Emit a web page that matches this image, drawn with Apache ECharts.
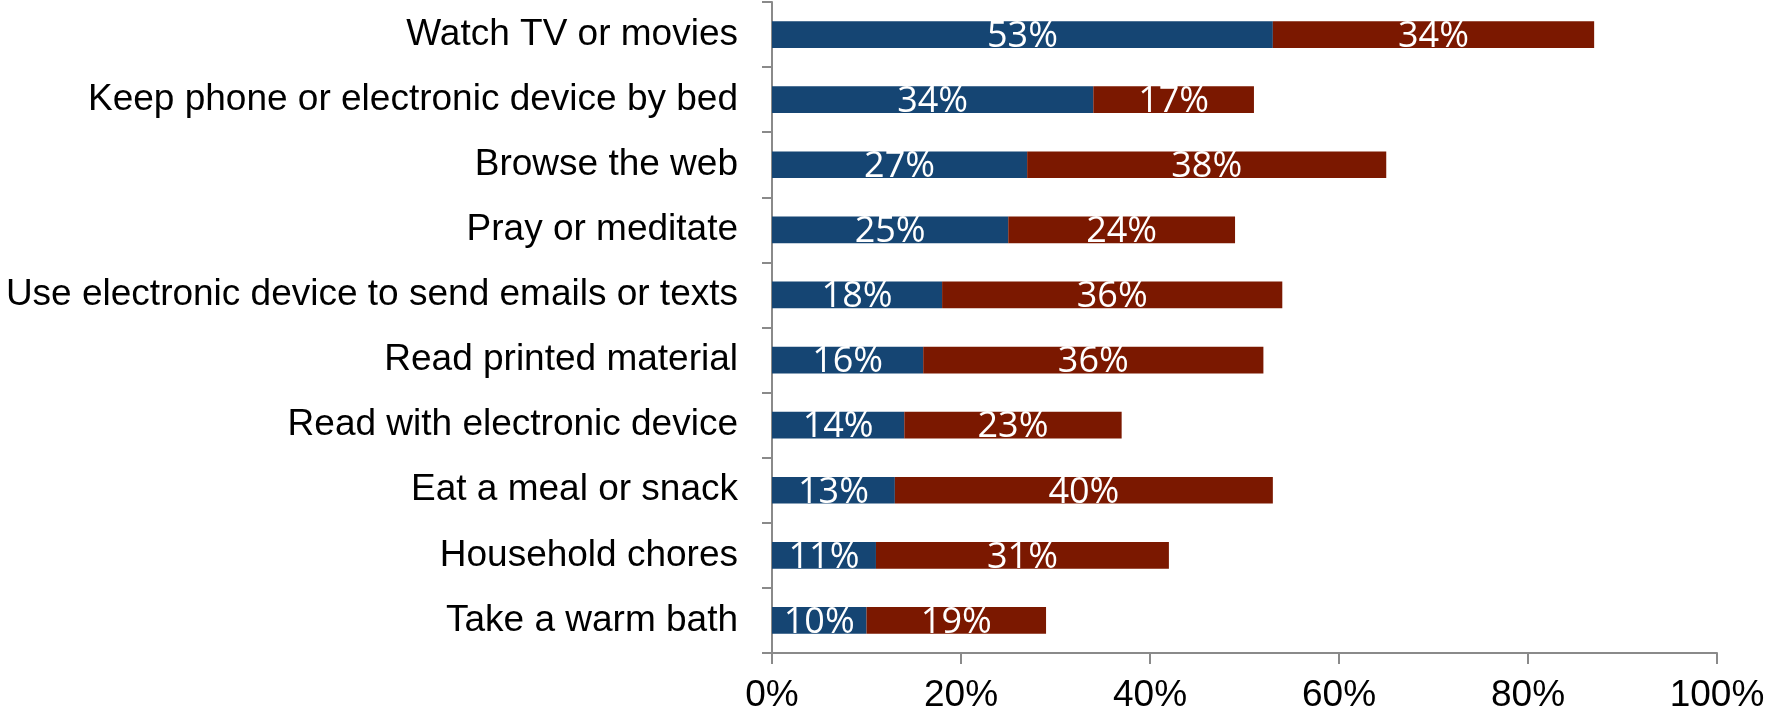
<!DOCTYPE html>
<html>
<head>
<meta charset="utf-8">
<script src="https://cdn.jsdelivr.net/npm/echarts@6/dist/echarts.min.js"></script>
<style>
  html, body { margin: 0; padding: 0; background: #ffffff; }
  #chart { width: 1768px; height: 715px; }
</style>
</head>
<body>
<div id="chart"></div>
<script>
// Bedtime activities, top to bottom
const categories = [
  'Watch TV or movies',
  'Keep phone or electronic device by bed',
  'Browse the web',
  'Pray or meditate',
  'Use electronic device to send emails or texts',
  'Read printed material',
  'Read with electronic device',
  'Eat a meal or snack',
  'Household chores',
  'Take a warm bath'
];
// First (blue) segment, percent
const blueValues = [53, 34, 27, 25, 18, 16, 14, 13, 11, 10];
// Second (red) segment, percent
const redValues = [34, 17, 38, 24, 36, 36, 23, 40, 31, 19];
// Value axis
const axisMin = 0;
const axisMax = 100;
const axisStep = 20;

const axisGray = '#8a8a8a';
const catFont = '"Liberation Sans", Arial, sans-serif';
const barFont = '"Open Sans", sans-serif';

const chart = echarts.init(document.getElementById('chart'), null, { renderer: 'canvas' });

const barLabel = {
  show: true,
  position: 'inside',
  offset: [0, 2],
  formatter: '{c}%',
  color: '#ffffff',
  fontFamily: barFont,
  fontSize: 36,
  lineHeight: 36
};

chart.setOption({
  animation: false,
  backgroundColor: '#ffffff',
  grid: { left: 772, right: 51, top: 2, bottom: 62, containLabel: false },
  xAxis: {
    type: 'value',
    min: axisMin,
    max: axisMax,
    interval: axisStep,
    axisLine: { show: true, lineStyle: { color: axisGray, width: 2 } },
    axisTick: { show: true, length: 11, lineStyle: { color: axisGray, width: 2 } },
    splitLine: { show: false },
    axisLabel: {
      formatter: '{value}%',
      color: '#000000',
      fontFamily: catFont,
      fontSize: 37,
      margin: 24
    }
  },
  yAxis: {
    type: 'category',
    data: categories,
    inverse: true,
    axisLine: { show: true, lineStyle: { color: axisGray, width: 2 } },
    axisTick: { show: true, length: 10, lineStyle: { color: axisGray, width: 2 } },
    axisLabel: {
      color: '#000000',
      fontFamily: catFont,
      fontSize: 37,
      margin: 34
    }
  },
  series: [
    {
      name: 'First',
      type: 'bar',
      stack: 'total',
      barWidth: '41%',
      data: blueValues,
      itemStyle: { color: '#154573' },
      label: barLabel
    },
    {
      name: 'Second',
      type: 'bar',
      stack: 'total',
      barWidth: '41%',
      data: redValues,
      itemStyle: { color: '#7b1800' },
      label: barLabel
    }
  ]
});
</script>
</body>
</html>
